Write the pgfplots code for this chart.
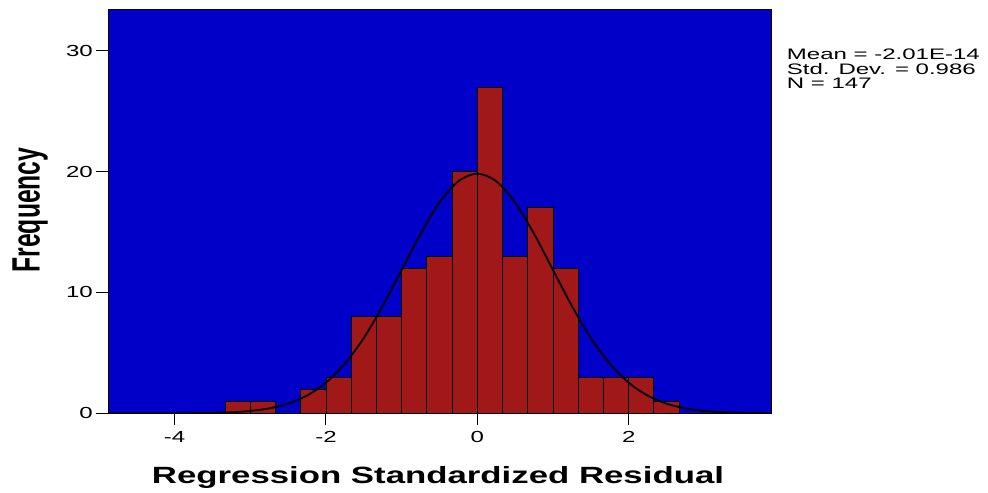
\documentclass[border=0pt]{standalone}
\usepackage{graphicx}
\usepackage{fontspec}
\usepackage{pgfplots}
\pgfplotsset{compat=1.18}
\setmainfont{Liberation Sans}
\newfontfamily\tickfont{Liberation Sans}[FakeStretch=1.5]
\newfontfamily\legfont{Liberation Sans}[FakeStretch=1.58]
\newfontfamily\labfont{Liberation Sans}[FakeStretch=1.48]
\definecolor{spssblue}{RGB}{0,0,200}
\definecolor{spssred}{RGB}{160,24,24}
\begin{document}
\begin{tikzpicture}
\path[use as bounding box] (0,0) rectangle (988bp,493bp);
\begin{axis}[
  at={(108bp,79.7bp)}, anchor=south west,
  scale only axis, width=663.7bp, height=403.3bp,
  xmin=-4.88, xmax=3.89, ymin=0, ymax=33.37,
  axis background/.style={fill=spssblue},
  axis line style={black, line width=1bp},
  tick align=outside, major tick length=12bp,
  tick style={black, line width=1bp},
  xtick pos=bottom, ytick pos=left,
  xtick={-4,-2,0,2}, xticklabels={-4,-2,0,2},
  ytick={0,10,20,30}, yticklabels={0,10,20,30},
  minor tick num=0,
  xticklabel style={font=\tickfont\fontsize{16bp}{16bp}\selectfont, anchor=north, inner sep=0pt, yshift=-6bp},
  yticklabel style={font=\tickfont\fontsize{16bp}{16bp}\selectfont, anchor=east, inner sep=0pt, xshift=-3bp},
  xlabel={\labfont\fontsize{23.5bp}{24bp}\selectfont\bfseries Regression Standardized Residual},
  xlabel style={at={(axis description cs:0.4972,-0.1753)}, anchor=base, inner sep=0pt},
  ylabel={\fontsize{24.7bp}{26bp}\selectfont\bfseries\scalebox{1}[1.6]{Frequency}},
  ylabel style={at={(axis description cs:-0.1032,0.504)}, anchor=base, inner sep=0pt, rotate=0},
]
\addplot[ybar interval, fill=spssred, draw=black, line width=0.9bp] coordinates {
(-3.3333,1) (-3,1) (-2.6667,0) (-2.3333,2) (-2,3) (-1.6667,8) (-1.3333,8)
(-1,12) (-0.6667,13) (-0.3333,20) (0,27) (0.3333,13) (0.6667,17) (1,12)
(1.3333,3) (1.6667,3) (2,3) (2.3333,1) (2.6667,0)
};
\addplot[black, line width=1.8bp, smooth] coordinates {
(-4.88,0.0001) (-4.75,0.0002) (-4.5,0.0006) (-4.25,0.0018) (-4,0.0053)
(-3.75,0.0143) (-3.5,0.0364) (-3.25,0.0867) (-3,0.194) (-2.75,0.406)
(-2.5,0.797) (-2.25,1.467) (-2,2.534) (-1.75,4.105) (-1.5,6.234)
(-1.25,8.878) (-1,11.86) (-0.75,14.85) (-0.5,17.44) (-0.25,19.20)
(0,19.83) (0.25,19.20) (0.5,17.44) (0.75,14.85) (1,11.86)
(1.25,8.878) (1.5,6.234) (1.75,4.105) (2,2.534) (2.25,1.467)
(2.5,0.797) (2.75,0.406) (3,0.194) (3.25,0.0867) (3.5,0.0364)
(3.75,0.0143) (3.89,0.0083)
};
\end{axis}
\node[anchor=base west, inner sep=0pt, font=\legfont\fontsize{15.2bp}{15bp}\selectfont] at (786.7bp,433.5bp) {Mean = -2.01E-14};
\node[anchor=base west, inner sep=0pt, font=\legfont\fontsize{15.2bp}{15bp}\selectfont] at (786.7bp,418.7bp) {Std. Dev. = 0.986};
\node[anchor=base west, inner sep=0pt, font=\legfont\fontsize{15.2bp}{15bp}\selectfont] at (786.7bp,404bp) {N = 147};
\end{tikzpicture}
\end{document}
